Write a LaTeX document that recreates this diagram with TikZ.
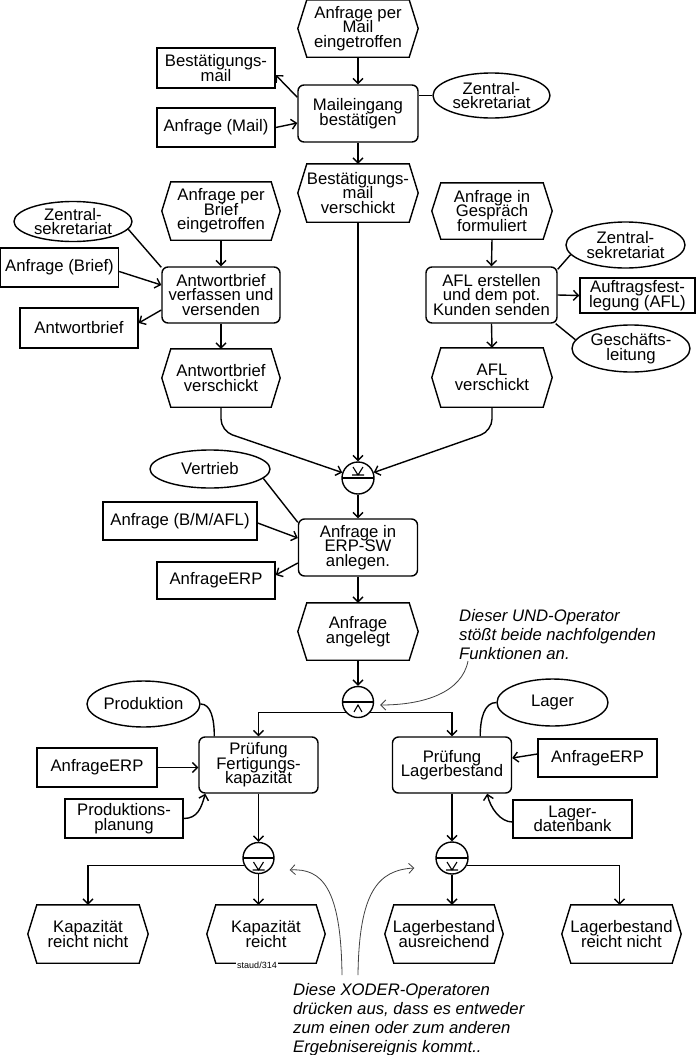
\documentclass[tikz,border=0pt]{standalone}
\usepackage{fontspec}
\setmainfont{Liberation Sans}
\usetikzlibrary{arrows.meta,shapes.geometric}
\lineskiplimit=-100pt
\newcommand\dfont{\fontsize{16.7}{14.5}\selectfont\lineskiplimit=-100pt\relax}
\newcommand\nfont{\fontsize{16.7}{19}\selectfont\itshape\lineskiplimit=-100pt\relax}
\begin{document}
\begin{tikzpicture}[x=1pt,y=-1pt,
  base/.style={inner sep=0pt, align=center, font=\dfont},
  evt/.style={base, rectangle, minimum width=120pt, minimum height=57pt},
  evline/.style={draw, line width=1.4pt, line join=miter},
  fct/.style={base, rectangle, rounded corners=6pt, draw, line width=1.4pt, minimum width=119pt, minimum height=57pt},
  info/.style={base, rectangle, draw, line width=1.4pt, minimum width=118pt, minimum height=39pt},
  org/.style={base, ellipse, draw, line width=1.4pt, minimum width=118pt, minimum height=46pt},
  opb/.style={circle, draw, line width=1.4pt, minimum size=31pt, inner sep=0pt},
  xorup/.style={opb, path picture={
     \draw[line width=1.3pt] (path picture bounding box.west) -- (path picture bounding box.east);
     \draw[line width=1.1pt] ([shift={(-5,-11)}]path picture bounding box.center) -- ++(5,8) -- ++(5,-8)
        ([shift={(-6,-3)}]path picture bounding box.center) -- ++(12,0);}},
  xordown/.style={opb, path picture={
     \draw[line width=1.3pt] (path picture bounding box.west) -- (path picture bounding box.east);
     \draw[line width=1.1pt] ([shift={(-5,4)}]path picture bounding box.center) -- ++(5,8) -- ++(5,-8)
        ([shift={(-6,12)}]path picture bounding box.center) -- ++(12,0);}},
  anddown/.style={opb, path picture={
     \draw[line width=1.3pt] (path picture bounding box.west) -- (path picture bounding box.east);
     \draw[line width=1.1pt] ([shift={(-4,10)}]path picture bounding box.center) -- ++(4,-7) -- ++(4,7);}},
  arr/.style={draw, line width=1.4pt, -{Straight Barb[length=5pt,width=10pt]}},
  ln/.style={draw, line width=1.4pt},
  notearr/.style={draw, line width=0.8pt, black!75, -{Straight Barb[length=5pt,width=10pt]}},
  notetext/.style={inner sep=0pt, align=left, font=\nfont, anchor=north west},
]
\fill[white] (0,0) rectangle (700,1055);
\useasboundingbox (0,0) rectangle (700,1055);

% ---------- top column ----------
\node[evt] (e1) at (358,28.5) {Anfrage per\\Mail\\eingetroffen};
\node[fct, minimum width=120pt] (f1) at (358,113.5) {Maileingang\\bestätigen};
\node[info, minimum height=40pt] (r1) at (216,68) {Bestätigungs-\\mail};
\node[info] (r2) at (216,127.5) {Anfrage (Mail)};
\node[org, minimum width=117pt, minimum height=45pt] (o1) at (491.5,95.5) {Zentral-\\sekretariat};
\node[evt, minimum height=58pt] (e2) at (358,193) {Bestätigungs-\\mail\\verschickt};

% ---------- left branch ----------
\node[evt, minimum width=118pt, minimum height=58pt] (e3) at (221,211) {Anfrage per\\Brief\\eingetroffen};
\node[org, minimum height=40pt] (o2) at (73,221.5) {Zentral-\\sekretariat};
\node[info] (r3) at (59.5,267.5) {Anfrage (Brief)};
\node[fct, minimum width=118pt, minimum height=56pt] (f2) at (221,295) {Antwortbrief\\verfassen und\\versenden};
\node[info, minimum height=40pt] (r4) at (79,328) {Antwortbrief};
\node[evt, minimum width=118pt, minimum height=58pt] (e4) at (221,378) {Antwortbrief\\verschickt};

% ---------- right branch ----------
\node[evt, minimum height=56pt] (e5) at (492,211) {Anfrage in\\Gespräch\\formuliert};
\node[org, minimum width=119pt] (o3) at (625.5,245) {Zentral-\\sekretariat};
\node[fct, minimum width=131pt, minimum height=56pt] (f3) at (491.5,295) {AFL erstellen\\und dem pot.\\Kunden senden};
\node[info, minimum width=115pt, minimum height=35pt] (r5) at (637.5,295.5) {Auftragsfest-\\legung (AFL)};
\node[org, minimum height=47pt] (o4) at (631,348.5) {Geschäfts-\\leitung};
\node[evt, minimum height=59pt] (e6) at (492,377.5) {AFL\\verschickt};

% ---------- middle ----------
\node[xorup, minimum size=32pt] (op1) at (358,478) {};
\node[org, minimum width=120pt, minimum height=38pt] (o5) at (210,469) {Vertrieb};
\node[info, minimum width=154pt, minimum height=38pt] (r6) at (180,521) {Anfrage (B/M/AFL)};
\node[fct] (f4) at (358,547.5) {Anfrage in\\ERP-SW\\anlegen.};
\node[info, minimum height=37pt] (r7) at (216,580.5) {AnfrageERP};
\node[evt] (e7) at (358,631.5) {Anfrage\\angelegt};
\node[anddown] (op2) at (358,702) {};

% ---------- lower part ----------
\node[org, minimum width=113pt] (o6) at (143.5,704) {Produktion};
\node[org, minimum width=111pt, minimum height=47pt] (o7) at (552.5,702.5) {Lager};
\node[fct, minimum height=56pt] (f5) at (258.5,765) {Prüfung\\Fertigungs-\\kapazität};
\node[fct, minimum height=56pt] (f6) at (452,765) {Prüfung\\Lagerbestand};
\node[info, minimum width=120pt] (r8) at (97,767.5) {AnfrageERP};
\node[info] (r9) at (124,818.5) {Produktions-\\planung};
\node[info, minimum width=119pt, minimum height=38pt] (r10) at (597.5,758) {AnfrageERP};
\node[info, minimum width=119pt, minimum height=38pt] (r11) at (572.5,819) {Lager-\\datenbank};
\node[xordown] (op3) at (258.5,858) {};
\node[xordown, minimum size=32pt] (op4) at (452,858) {};
\node[evt, minimum height=58pt] (e8) at (88,934) {Kapazität\\reicht nicht};
\node[evt, minimum width=118pt, minimum height=58pt] (e9) at (266,934) {Kapazität\\reicht};
\node[evt, minimum width=118pt, minimum height=58pt] (e10) at (444,934) {Lagerbestand\\ausreichend};
\node[evt, minimum width=119pt, minimum height=58pt] (e11) at (621.5,934) {Lagerbestand\\reicht nicht};

% event hexagons
\foreach \n in {e1,e2,e3,e4,e5,e6,e7,e8,e9,e10,e11}{
  \draw[evline] ([xshift=9pt]\n.north west) -- ([xshift=-9pt]\n.north east) -- (\n.east)
    -- ([xshift=-9pt]\n.south east) -- ([xshift=9pt]\n.south west) -- (\n.west) -- cycle;
}
\node[fill=white, inner sep=1pt, font=\fontsize{9}{10}\selectfont] (st) at (257,965) {staud/314};

% annotations
\node[notetext] (n1) at (459,609) {Dieser UND-Operator\\stößt beide nachfolgenden\\Funktionen an.};
\node[notetext] (n2) at (293,983) {Diese XODER-Operatoren\\drücken aus, dass es entweder\\zum einen oder zum anderen\\Ergebnisereignis kommt..};

% ---------- connectors ----------
\draw[arr] (e1.south) -- (f1.north);
\draw[arr] ([yshift=-13pt]f1.north west) -- ([yshift=-7pt]r1.east);
\draw[arr] (r2.east) -- ([yshift=-9.5pt]f1.west);
\draw[ln] (o1.west) -- (f1.east |- o1.west);
\draw[arr] (f1.south) -- (e2.north);
\draw[arr] (e2.south) -- (op1.north);

\draw[ln] (o2.-8) -- ([yshift=-1pt]f2.north west);
\draw[arr] (e3.south) -- (f2.north);
\draw[arr] ([yshift=-4pt]r3.east) -- ([yshift=10pt]f2.west);
\draw[arr] ([yshift=-15pt]f2.west) -- ([yshift=5pt]r4.east);
\draw[arr] (f2.south) -- (e4.north);

\draw[arr] (e5.south) -- (f3.north);
\draw[ln] ([yshift=-3pt]f3.north east) -- (o3.190);
\draw[arr] (f3.east) -- (r5.west);
\draw[ln] ([xshift=-2pt]f3.south east) -- (o4.171);
\draw[arr] (f3.south) -- (e6.north);

\coordinate (k1) at (221,431);
\coordinate (k2) at (492,431);
\draw[arr, rounded corners=12pt] (e4.south) -- (k1) -- (op1);
\draw[arr, rounded corners=12pt] (e6.south) -- (k2) -- (op1);

\draw[ln] (o5.-10) -- ([yshift=-4pt]f4.north west);
\draw[arr] ([yshift=-2pt]r6.east) -- ([yshift=9.5pt]f4.west);
\draw[arr] ([yshift=-15.5pt]f4.west) -- ([yshift=5.5pt]r7.east);
\draw[arr] (op1.south) -- (f4.north);
\draw[arr] (f4.south) -- (e7.north);
\draw[arr] (e7.south) -- (op2.north);

\draw[arr] (op2.220) -| (f5.north);
\draw[arr] (op2.-40) -| (f6.north);
\draw[ln] (o6.east) .. controls +(10,0) and +(0,-18) .. ([xshift=16pt]f5.north west);
\draw[arr] (r8.east) -- (r8.east -| f5.west);
\draw[arr] (r9.east) .. controls +(14,0) and +(-4,14) .. ([xshift=7pt]f5.south west);
\draw[ln] (o7.west) .. controls +(-12,0) and +(0,-18) .. ([xshift=-32pt]f6.north east);
\draw[arr] ([yshift=4pt]r10.west) -- ([yshift=7pt]f6.east);
\draw[arr] ([yshift=-3pt]r11.west) .. controls +(-12,0) and +(3,14) .. ([xshift=-25pt]f6.south east);

\draw[arr] (f5.south -| op3) -- (op3.north);
\draw[arr] (f6.south) -- (op4.north);
\draw[arr] (op3.207) -| (e8.north);
\draw[arr] (op3.south) -- (op3.south |- e9.north);
\draw[arr] (op4.south) -- (op4.south |- e10.north);
\draw[arr] (op4.-27) -| ([xshift=-2pt]e11.north);

% annotation arrows
\coordinate (na1) at (468,661);
\coordinate (na2) at (342,975);
\coordinate (na3) at (358,975);
\draw[notearr] (na1) .. controls (462,692) and (425,705) .. ([shift={(6,3)}]op2.east);
\draw[notearr] (na2) .. controls (341,888) and (322,868) .. ([shift={(15,12)}]op3.east);
\draw[notearr] (na3) .. controls (359,892) and (378,870) .. ([shift={(-21,10)}]op4.west);
\end{tikzpicture}
\end{document}
